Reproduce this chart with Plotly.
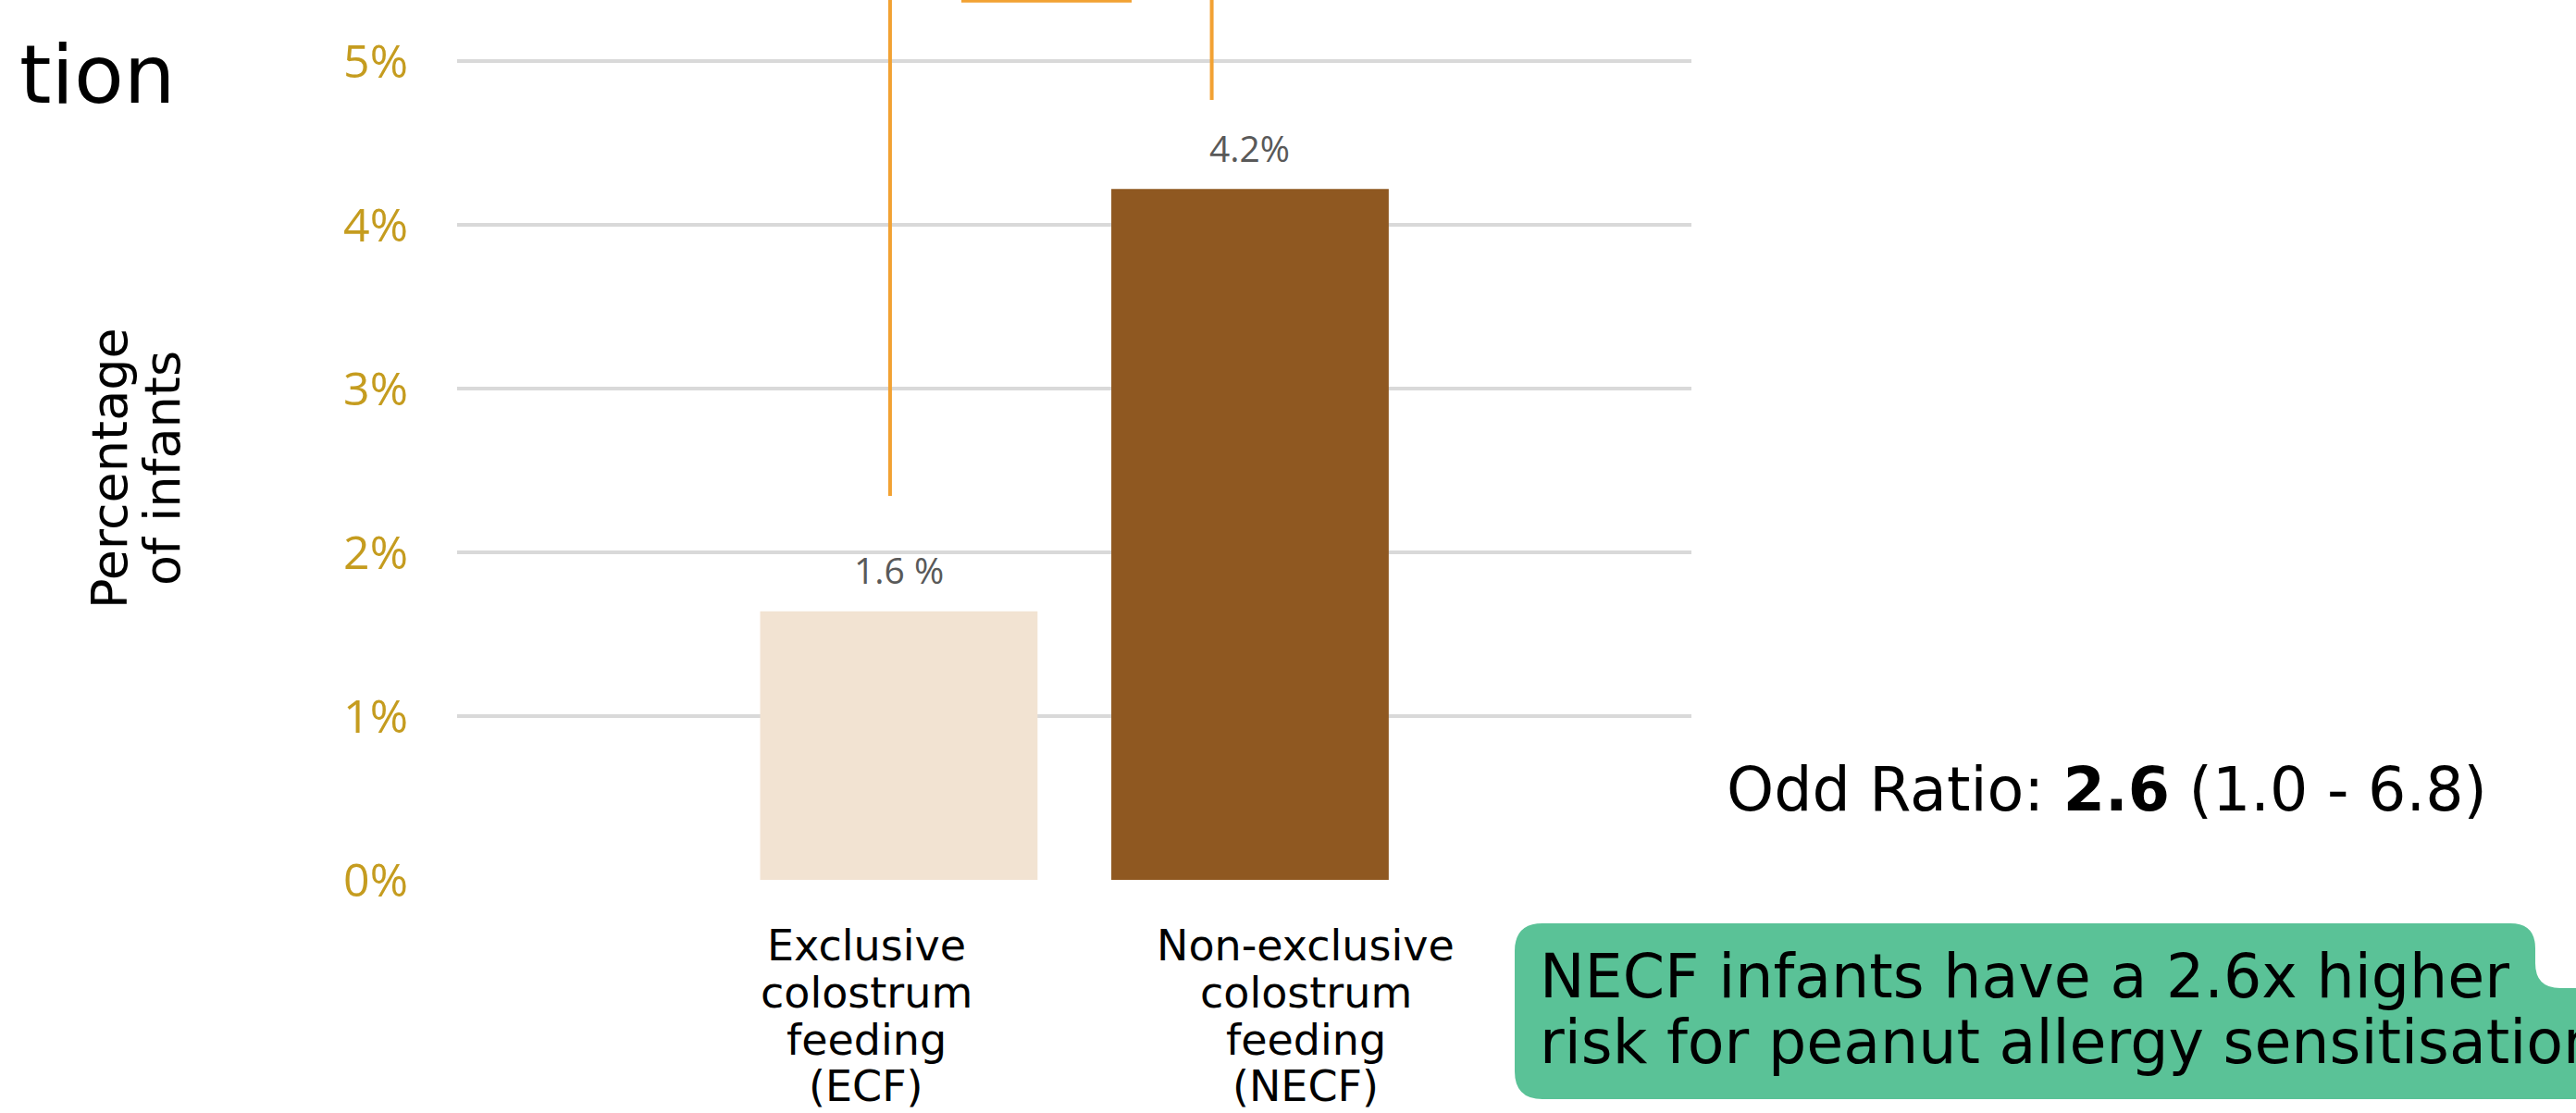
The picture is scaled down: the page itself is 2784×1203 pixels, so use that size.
import plotly.graph_objects as go

# ---------------- data ----------------
categories = ["ECF", "NECF"]
values = [1.64, 4.22]                      # % of infants
value_labels = ["1.6 %", "4.2%"]
bar_colors = ["#F2E3D2", "#8F5821"]
category_lines = [
    ["Exclusive", "colostrum", "feeding", "(ECF)"],
    ["Non-exclusive", "colostrum", "feeding", "(NECF)"],
]
y_ticks = [0, 1, 2, 3, 4, 5]
y_tick_text = ["0%", "1%", "2%", "3%", "4%", "5%"]
y_title_lines = ["Percentage", "of infants"]
title_fragment = "tion"
odds_text = "Odd Ratio: <b>2.6</b> (1.0 - 6.8)"
callout_lines = ["NECF infants have a 2.6x higher",
                 "risk for peanut allergy sensitisation"]
# significance bracket (data units): x positions and lower ends of the legs
bracket_x = [-0.025, 0.891]
bracket_bottom = [2.345, 4.764]
bracket_top_x = [0.178, 0.663]

# ---------------- layout geometry ----------------
W, H = 2784, 1203
L, R = 494, 1828          # plot area x-extent in px
T, B = 0, 951             # plot area y-extent in px
PW, PH = R - L, B - T
Y_TOP = 5.374
X_RANGE = [-1.258, 2.257]


def xp(px):
    return (px - L) / PW


def yp(py):
    return (B - py) / PH


TXT_FONT = "DejaVu Sans"
GOLD = "#C59C1F"
ORANGE = "#F2A233"
GREEN = "#5AC297"

fig = go.Figure()
fig.add_trace(go.Bar(
    x=list(range(len(categories))), y=values,
    marker=dict(color=bar_colors, line=dict(width=0)),
    width=0.79, hoverinfo="skip", showlegend=False,
))

annotations = []
# value labels
for i, (v, lab) in enumerate(zip(values, value_labels)):
    annotations.append(dict(x=i, y=v, xref="x", yref="y", text=lab, showarrow=False,
                            yanchor="middle", xanchor="center", yshift=45,
                            font=dict(family="Open Sans", size=39, color="#595959")))

# category labels (each line placed separately for tight spacing)
cat_centers_px = [936, 1411]
line_centers_py = [1022, 1073, 1124, 1174]
for cx, lines in zip(cat_centers_px, category_lines):
    for ly, t in zip(line_centers_py, lines):
        annotations.append(dict(x=xp(cx), y=yp(ly), xref="paper", yref="paper", text=t,
                                showarrow=False, xanchor="center", yanchor="middle",
                                font=dict(family=TXT_FONT, size=46, color="#000000")))

# y-axis title (rotated, two lines)
for cx, t in zip([118, 175], y_title_lines):
    annotations.append(dict(x=xp(cx), y=yp(506), xref="paper", yref="paper", text=t,
                            showarrow=False, textangle=-90, xanchor="center", yanchor="middle",
                            font=dict(family=TXT_FONT, size=54, color="#000000")))

# title fragment
annotations.append(dict(x=xp(192), y=yp(80), xref="paper", yref="paper", text=title_fragment,
                        showarrow=False, xanchor="right", yanchor="middle",
                        font=dict(family=TXT_FONT, size=88, color="#000000")))

# odds ratio
annotations.append(dict(x=xp(1864), y=yp(853), xref="paper", yref="paper", text=odds_text,
                        showarrow=False, xanchor="left", yanchor="middle",
                        font=dict(family=TXT_FONT, size=65, color="#000000")))

# callout text
for ly, t in zip([1055, 1126], callout_lines):
    annotations.append(dict(x=xp(1662), y=yp(ly), xref="paper", yref="paper", text=t,
                            showarrow=False, xanchor="left", yanchor="middle",
                            font=dict(family=TXT_FONT, size=65, color="#000000")))

shapes = []
# bracket legs and top segment
for bx, bb in zip(bracket_x, bracket_bottom):
    shapes.append(dict(type="line", xref="x", yref="y", x0=bx, x1=bx, y0=bb, y1=Y_TOP + 0.2,
                       line=dict(color=ORANGE, width=4)))
shapes.append(dict(type="line", xref="x", yref="y", x0=bracket_top_x[0], x1=bracket_top_x[1],
                   y0=Y_TOP - 0.006, y1=Y_TOP - 0.006, line=dict(color=ORANGE, width=3.5)))

# green callout box with notch at top-right
pts = [
    ("M", 1667, 998), ("L", 2713, 998), ("Q", 2740, 998, 2740, 1025),
    ("L", 2740, 1041), ("Q", 2740, 1068, 2767, 1068), ("L", 2800, 1068),
    ("L", 2800, 1188), ("L", 1667, 1188), ("Q", 1637, 1188, 1637, 1158),
    ("L", 1637, 1028), ("Q", 1637, 998, 1667, 998),
]
segs = []
for p in pts:
    cmd = p[0]
    coords = p[1:]
    cs = []
    for k in range(0, len(coords), 2):
        cs.append(f"{xp(coords[k]):.5f},{yp(coords[k+1]):.5f}")
    segs.append(cmd + " " + " ".join(cs))
path = " ".join(segs) + " Z"
shapes.append(dict(type="path", xref="paper", yref="paper", path=path,
                   fillcolor=GREEN, line=dict(width=0), layer="below"))

fig.update_layout(
    width=W, height=H,
    margin=dict(l=L, r=W - R, t=T, b=H - B, pad=0),
    paper_bgcolor="white", plot_bgcolor="white",
    showlegend=False,
    annotations=annotations,
    shapes=shapes,
    xaxis=dict(range=X_RANGE, showticklabels=False, showgrid=False, zeroline=False,
               showline=False, ticks="", automargin=False, fixedrange=True),
    yaxis=dict(range=[0, Y_TOP], tickmode="array", tickvals=y_ticks, ticktext=y_tick_text,
               showgrid=True, gridcolor="#D9D9D9", gridwidth=3.5, zeroline=False,
               showline=False, ticks="", ticklabelstandoff=52, automargin=False,
               fixedrange=True, tickfont=dict(family="Open Sans", size=50, color=GOLD)),
)

fig.write_html("out.html", config={"displayModeBar": False})
